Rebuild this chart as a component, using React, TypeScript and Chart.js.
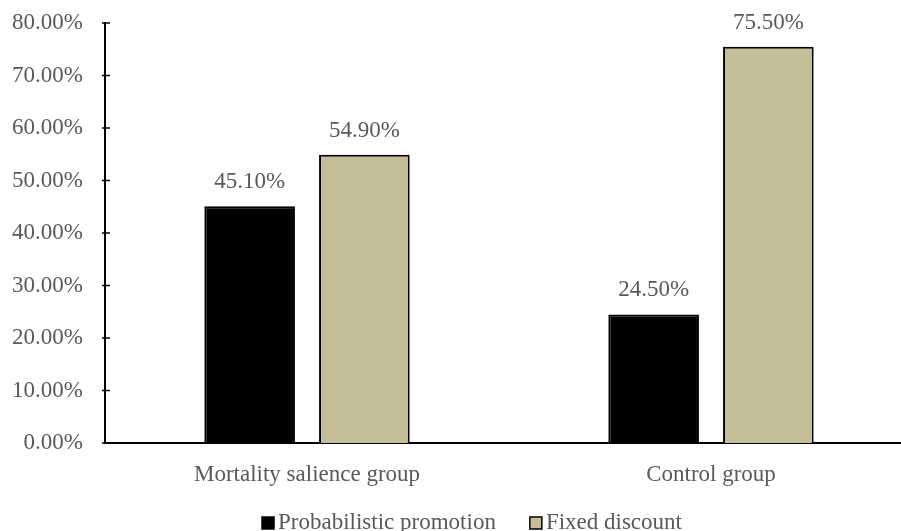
import React, { useEffect, useRef } from "react";
import { Chart, registerables } from "chart.js";

Chart.register(...registerables);

const categories = ["Mortality salience group", "Control group"];
const seriesNames = ["Probabilistic promotion", "Fixed discount"];
const probabilistic = [45.1, 24.5];
const fixedDiscount = [54.9, 75.5];
const yTicks = [0, 10, 20, 30, 40, 50, 60, 70, 80];

const FONT = '"Liberation Serif", "Times New Roman", serif';
const TEXT = "#595959";
const TAN = "#C4BD97";
const FS = 23;

const labelPlugin = {
  id: "valueLabels",
  afterDatasetsDraw(chart: any) {
    const ctx = chart.ctx;
    ctx.save();
    ctx.font = `${FS}px ${FONT}`;
    ctx.fillStyle = TEXT;
    ctx.textAlign = "center";
    ctx.textBaseline = "middle";
    chart.data.datasets.forEach((ds: any, i: number) => {
      const meta = chart.getDatasetMeta(i);
      meta.data.forEach((el: any, j: number) => {
        const v = ds.data[j] as number;
        ctx.fillText(v.toFixed(2) + "%", el.x, el.y - 24);
      });
    });
    ctx.restore();
  },
};

const tickPlugin = {
  id: "crossTicks",
  afterDraw(chart: any) {
    const ctx = chart.ctx;
    const y = chart.scales.y;
    const x0 = chart.chartArea.left;
    ctx.save();
    ctx.strokeStyle = "#000";
    ctx.lineWidth = 1.5;
    y.ticks.forEach((t: any) => {
      const py = y.getPixelForValue(t.value);
      ctx.beginPath();
      ctx.moveTo(x0 - 3, py);
      ctx.lineTo(x0 + 5, py);
      ctx.stroke();
    });
    ctx.restore();
  },
};

const legendPlugin = {
  id: "customLegend",
  afterDraw(chart: any) {
    const ctx = chart.ctx;
    ctx.save();
    ctx.font = `${FS}px ${FONT}`;
    const box = 12;
    const gapBox = 4;
    const gapItem = 34;
    const items = chart.data.datasets.map((ds: any) => ({
      text: ds.label,
      fill: ds.backgroundColor,
      w: box + gapBox + ctx.measureText(ds.label).width,
    }));
    const total = items.reduce((s: number, it: any) => s + it.w, 0) + gapItem * (items.length - 1);
    let x = chart.width / 2 - total / 2;
    const cy = chart.height - 8;
    items.forEach((it: any) => {
      ctx.fillStyle = it.fill;
      ctx.fillRect(x, cy - box / 2, box, box);
      ctx.strokeStyle = "#000";
      ctx.lineWidth = 1.5;
      ctx.strokeRect(x, cy - box / 2, box, box);
      ctx.fillStyle = TEXT;
      ctx.textAlign = "left";
      ctx.textBaseline = "middle";
      ctx.fillText(it.text, x + box + gapBox, cy);
      x += it.w + gapItem;
    });
    ctx.restore();
  },
};

export default function App() {
  const ref = useRef<HTMLCanvasElement | null>(null);
  useEffect(() => {
    if (!ref.current) return;
    const chart = new Chart(ref.current, {
      type: "bar",
      data: {
        labels: categories,
        datasets: [
          {
            label: seriesNames[0],
            data: probabilistic,
            backgroundColor: "#000000",
            borderColor: "#000000",
            borderWidth: 2,
            categoryPercentage: 0.568,
            barPercentage: 0.79,
          },
          {
            label: seriesNames[1],
            data: fixedDiscount,
            backgroundColor: TAN,
            borderColor: "#000000",
            borderWidth: 2,
            categoryPercentage: 0.568,
            barPercentage: 0.79,
          },
        ],
      },
      options: {
        responsive: false,
        animation: false,
        devicePixelRatio: 1,
        layout: { padding: { left: 0, right: 31, top: 23, bottom: 0 } },
        plugins: {
          legend: { display: false },
          tooltip: { enabled: false },
        },
        scales: {
          x: {
            grid: { display: false },
            border: { display: true, color: "#000", width: 2 },
            ticks: {
              color: TEXT,
              font: { family: FONT, size: FS },
              padding: 10,
              maxRotation: 0,
            },
            afterFit: (s: any) => {
              s.height = 88;
              s.paddingLeft = 0;
              s.paddingRight = 0;
            },
          },
          y: {
            min: 0,
            max: 80,
            afterBuildTicks: (s: any) => {
              s.ticks = yTicks.map((v) => ({ value: v }));
            },
            grid: { display: false, drawTicks: false },
            border: { display: true, color: "#000", width: 2 },
            ticks: {
              color: TEXT,
              font: { family: FONT, size: FS },
              padding: 22,
              callback: (v: any) => Number(v).toFixed(2) + "%",
            },
            afterFit: (s: any) => {
              s.width = 105;
              s.paddingTop = 0;
              s.paddingBottom = 0;
            },
          },
        },
      },
      plugins: [labelPlugin, tickPlugin, legendPlugin],
    });
    return () => chart.destroy();
  }, []);
  return (
    <div style={{ position: "fixed", left: 0, top: 0, width: 901, height: 531, overflow: "hidden", background: "#fff" }}>
      <canvas ref={ref} width={944} height={531} style={{ width: 944, height: 531, display: "block" }} />
    </div>
  );
}
